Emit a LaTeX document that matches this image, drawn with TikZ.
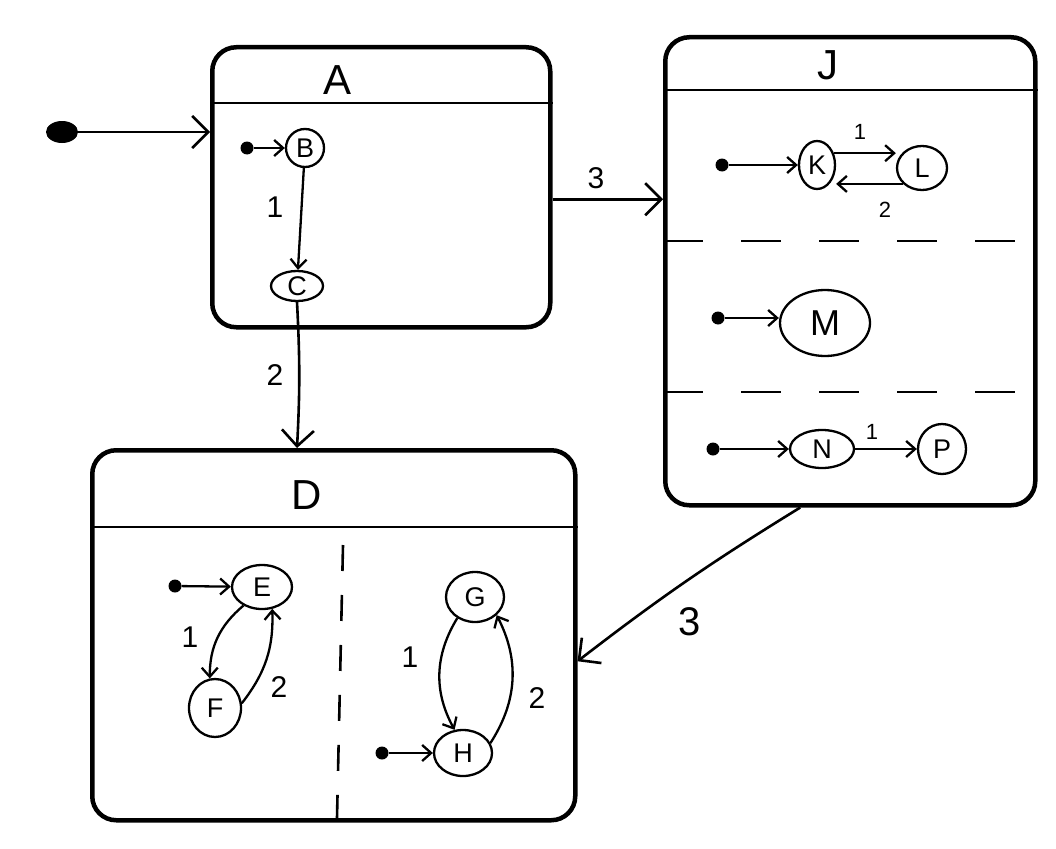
\documentclass[tikz,border=0pt]{standalone}
\usepackage{fontspec}
\setmainfont{Liberation Sans}
\usetikzlibrary{arrows.meta,shapes.geometric,calc}

\begin{document}
\begin{tikzpicture}[x=1pt,y=-1pt,
  compbox/.style={draw, line width=4.5pt, rounded corners=24pt, inner sep=0pt, anchor=north west},
  divider/.style={line width=2.4pt},
  region/.style={line width=2.6pt, dash pattern=on 40pt off 38pt},
  st/.style={draw, ellipse, line width=2.3pt, inner sep=0pt, font=\fontsize{27}{27}\selectfont},
  initdot/.style={circle, fill=black, inner sep=0pt, minimum size=13pt},
  bigdot/.style={ellipse, fill=black, inner sep=0pt, minimum width=32pt, minimum height=22pt},
  tr/.style={line width=2.3pt, -{Straight Barb[length=9pt,width=16pt,line width=2.3pt]}},
  bigtr/.style={line width=2.6pt, -{Straight Barb[length=16pt,width=32pt,line width=2.6pt]}},
  title/.style={font=\fontsize{42}{42}\selectfont},
  num/.style={font=\fontsize{30}{30}\selectfont},
  smallnum/.style={font=\fontsize{22}{22}\selectfont},
]
\fill[white] (0,0) rectangle (1056,848);
\useasboundingbox (0,0) rectangle (1056,848);

% composite states
\node[compbox, minimum width=338pt, minimum height=280pt] (A) at (210,45) {};
\node[compbox, minimum width=370pt, minimum height=468pt] (J) at (663,35) {};
\node[compbox, minimum width=483pt, minimum height=370pt] (D) at (90,448) {};

% header bars and titles
\draw[divider] (A.west |- 0,103) -- (A.east |- 0,103);
\draw[divider] (J.west |- 0,90) -- (J.east |- 0,90);
\draw[divider] (D.west |- 0,527) -- (D.east |- 0,527);
\node[title] (tA) at (338,80) {A};
\node[title] (tJ) at (828,65) {J};
\node[title] (tD) at (307,495) {D};

% orthogonal regions
\draw[region] (J.west |- 0,241) -- (J.east |- 0,241);
\draw[region] (J.west |- 0,392) -- (J.east |- 0,392);
\draw[region, dash pattern=on 26pt off 24pt] (343,545) -- (337,818);

% top level initial transition
\node[bigdot] (i0) at (62,132) {};
\draw[bigtr] (i0) -- (i0 -| A.west);

% inside A
\node[initdot] (iB) at (247,148) {};
\node[st, circle, minimum size=38pt] (B) at (305,148) {B};
\node[st, minimum width=52pt, minimum height=30pt] (C) at (297,286) {C};
\draw[tr] (iB) -- (B);
\draw[tr] (B) -- (C);
\node[num] (n1) at (275,207) {1};

% inside J
\node[initdot] (iK) at (722,165) {};
\node[st, minimum width=36pt, minimum height=48pt] (K) at (817,165) {K};
\node[st, minimum width=50pt, minimum height=44pt] (L) at (922,168) {L};
\draw[tr] (iK) -- (K);
\draw[tr] (K.35) -- (K.35 -| L.west);
\draw[tr] (L.-140) -- (L.-140 -| K.east);
\node[smallnum] (n2) at (860,132) {1};
\node[smallnum] (n3) at (885,210) {2};

\node[initdot] (iM) at (718,318) {};
\node[st, minimum width=90pt, minimum height=66pt, font=\fontsize{36}{36}\selectfont] (M) at (825,323) {M};
\draw[tr] (iM) -- (iM -| M.west);

\node[initdot] (iN) at (713,449) {};
\node[st, minimum width=64pt, minimum height=38pt] (N) at (822,449) {N};
\node[st, minimum width=48pt, minimum height=50pt] (P) at (942,449) {P};
\draw[tr] (iN) -- (N);
\draw[tr] (N) -- (P);
\node[smallnum] (n4) at (872,432) {1};

% inside D, left region
\node[initdot] (iE) at (175,586) {};
\node[st, minimum width=60pt, minimum height=44pt] (E) at (262,587) {E};
\node[st, minimum width=52pt, minimum height=58pt] (F) at (215,708) {F};
\draw[tr] (iE) -- (E);
\draw[tr] (E.225) to[bend right=25] (F.100);
\draw[tr] (F.10) to[bend right=20] (E.-65);
\node[num] (n5) at (190,637) {1};
\node[num] (n6) at (279,687) {2};

% inside D, right region
\node[st, minimum width=58pt, minimum height=50pt] (G) at (475,597) {G};
\node[initdot] (iH) at (382,753) {};
\node[st, minimum width=58pt, minimum height=46pt] (H) at (463,753) {H};
\draw[tr] (iH) -- (H);
\draw[tr] (G.230) to[bend right=30] (H.110);
\draw[tr] (H.20) to[bend right=30] (G.-40);
\node[num] (n7) at (410,657) {1};
\node[num] (n8) at (537,698) {2};

% top level transitions
\draw[bigtr] (C.south) to[bend left=3] (C.south |- D.north);
\node[num] (n9) at (275,375) {2};
\draw[bigtr] ([yshift=-12pt]A.east) -- ([yshift=-12pt]A.east -| J.west);
\node[num] (n10) at (596,178) {3};
\draw[bigtr] ([xshift=-50pt]J.south) to[bend right=3] ([yshift=-26pt]D.east);
\node[title, font=\fontsize{40}{40}\selectfont] (n11) at (690,622) {3};
\end{tikzpicture}
\end{document}
